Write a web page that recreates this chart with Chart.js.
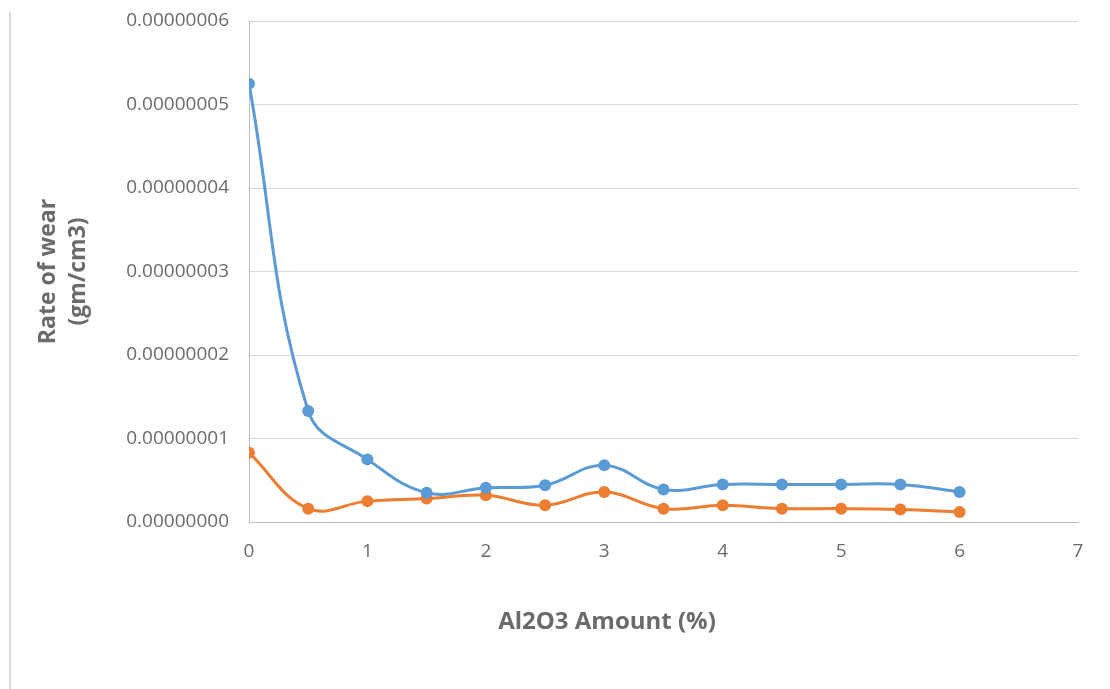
<!DOCTYPE html>
<html>
<head>
<meta charset="utf-8">
<script src="https://cdn.jsdelivr.net/npm/chart.js@4.4.1/dist/chart.umd.min.js"></script>
<style>
  html, body { margin: 0; padding: 0; background: #ffffff; }
  #wrap { width: 1110px; height: 689px; position: relative; }
</style>
</head>
<body>
<div id="wrap"><canvas id="c" width="1110" height="689"></canvas></div>
<script>
// Al2O3 content (%) on the x axis
const amounts = [0, 0.5, 1, 1.5, 2, 2.5, 3, 3.5, 4, 4.5, 5, 5.5, 6];
// Wear rate (gm/cm3), upper series
const wearSeriesA = [5.25e-8, 1.33e-8, 0.75e-8, 0.35e-8, 0.41e-8, 0.44e-8, 0.68e-8, 0.39e-8, 0.45e-8, 0.45e-8, 0.45e-8, 0.45e-8, 0.36e-8];
// Wear rate (gm/cm3), lower series
const wearSeriesB = [0.83e-8, 0.16e-8, 0.25e-8, 0.28e-8, 0.32e-8, 0.20e-8, 0.36e-8, 0.16e-8, 0.20e-8, 0.16e-8, 0.16e-8, 0.15e-8, 0.12e-8];
// Axis labels
const xTitle = 'Al2O3 Amount (%)';
const yTitle = ['Rate of wear', '(gm/cm3)'];

const toPoints = (vals) => vals.map((v, i) => ({ x: amounts[i], y: v }));

const tickGrey = '#6b6b6b';
const titleGrey = '#6b6b6b';
const fontFamily = '"Open Sans", "Noto Sans", sans-serif';

// Frame line on the left edge and the x-axis caption
const decor = {
  id: 'decor',
  beforeDraw(chart) {
    const ctx = chart.ctx;
    ctx.save();
    ctx.strokeStyle = '#d9d9d9';
    ctx.lineWidth = 2;
    ctx.beginPath();
    ctx.moveTo(10, 12);
    ctx.lineTo(10, 689);
    ctx.stroke();
    ctx.restore();
  },
  afterDraw(chart) {
    const ctx = chart.ctx;
    ctx.save();
    ctx.fillStyle = titleGrey;
    ctx.font = 'bold 24px ' + fontFamily;
    ctx.textAlign = 'center';
    ctx.textBaseline = 'middle';
    ctx.fillText(xTitle, 607, 622);
    ctx.restore();
  }
};

new Chart(document.getElementById('c'), {
  type: 'line',
  data: {
    datasets: [
      {
        data: toPoints(wearSeriesA),
        borderColor: '#5B9BD5',
        backgroundColor: '#5B9BD5',
        borderWidth: 3,
        pointRadius: 6,
        pointHoverRadius: 6,
        pointBorderWidth: 0,
        tension: 0.4,
        fill: false
      },
      {
        data: toPoints(wearSeriesB),
        borderColor: '#ED7D31',
        backgroundColor: '#ED7D31',
        borderWidth: 3,
        pointRadius: 6,
        pointHoverRadius: 6,
        pointBorderWidth: 0,
        tension: 0.4,
        fill: false
      }
    ]
  },
  options: {
    responsive: false,
    animation: false,
    devicePixelRatio: 1,
    layout: { padding: { left: 0, right: 32, top: 21, bottom: 0 } },
    plugins: {
      legend: { display: false },
      tooltip: { enabled: false }
    },
    scales: {
      x: {
        type: 'linear',
        min: 0,
        max: 7,
        afterFit(scale) {
          scale.height = 167;
          scale.paddingLeft = 0;
          scale.paddingRight = 0;
        },
        ticks: {
          stepSize: 1,
          padding: 18,
          color: tickGrey,
          font: { family: fontFamily, size: 19 }
        },
        grid: { display: false, drawTicks: false },
        border: { display: true, color: '#bfbfbf', width: 1 }
      },
      y: {
        type: 'linear',
        min: 0,
        max: 6e-8,
        afterFit(scale) {
          scale.width = 249;
          scale.paddingTop = 0;
          scale.paddingBottom = 0;
        },
        ticks: {
          stepSize: 1e-8,
          padding: 20,
          color: tickGrey,
          font: { family: fontFamily, size: 19 },
          callback: (v) => Number(v).toFixed(8)
        },
        grid: { color: '#d9d9d9', lineWidth: 1, drawTicks: false },
        border: { display: true, color: '#bfbfbf', width: 1 },
        title: {
          display: true,
          text: yTitle,
          color: titleGrey,
          font: { family: fontFamily, size: 23, weight: 'bold', lineHeight: '30px' },
          padding: { top: 33, bottom: 0 }
        }
      }
    }
  },
  plugins: [decor]
});
</script>
</body>
</html>
